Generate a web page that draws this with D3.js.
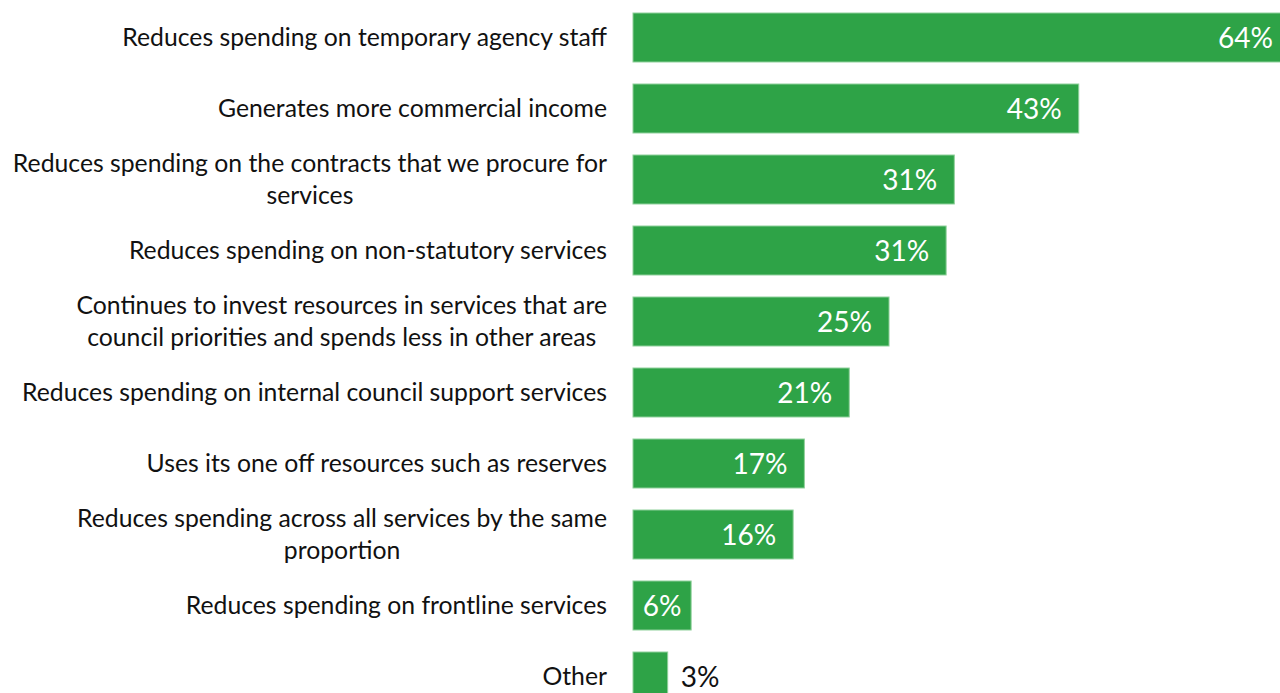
<!DOCTYPE html>
<html>
<head>
<meta charset="utf-8">
<script src="https://cdn.jsdelivr.net/npm/d3@7"></script>
<style>
  html, body { margin: 0; padding: 0; background: #fff; overflow: hidden; }
  svg { display: block; }
</style>
</head>
<body>
<div id="chart"></div>
<script>
// categories, top to bottom (line breaks as in the original)
const categories = [
  "Reduces spending on temporary agency staff",
  "Generates more commercial income",
  "Reduces spending on the contracts that we procure for\nservices",
  "Reduces spending on non-statutory services",
  "Continues to invest resources in services that are\ncouncil priorities and spends less in other areas",
  "Reduces spending on internal council support services",
  "Uses its one off resources such as reserves",
  "Reduces spending across all services by the same\nproportion",
  "Reduces spending on frontline services",
  "Other"
];
// share of respondents, %
const values = [64.4, 43.7, 31.5, 30.7, 25.1, 21.2, 16.8, 15.7, 5.7, 3.4];
const valueLabels = ["64%", "43%", "31%", "31%", "25%", "21%", "17%", "16%", "6%", "3%"];

(function() {
  const W = 1280, H = 693;
  const plotLeft = 633;
  const labelRight = 607;
  const green = "#2ea347";
  const font = "Lato, 'Open Sans', sans-serif";

  const svg = d3.select("#chart").append("svg")
    .attr("width", W)
    .attr("height", H);

  const rows = categories.map((c, i) => ({ cat: c, value: values[i], label: valueLabels[i] }));

  const x = d3.scaleLinear()
    .domain([0, 100])
    .range([plotLeft, plotLeft + 1020]);

  const y = d3.scaleBand()
    .domain(categories)
    .range([2, 712])
    .paddingInner(0.31)
    .paddingOuter(0.155);

  // fit the label font so the longest single line is about as wide as the original
  const probe = svg.append("text").attr("font-family", font).attr("font-size", 26)
    .text("Reduces spending on temporary agency staff");
  const catSize = 26 * 485 / probe.node().getComputedTextLength();
  probe.attr("font-size", 26).text("64%");
  const valSize = 26 * 55 / probe.node().getComputedTextLength();
  probe.remove();

  // bars
  svg.selectAll("rect.bar")
    .data(rows)
    .join("rect")
    .attr("class", "bar")
    .attr("x", x(0))
    .attr("y", d => y(d.cat))
    .attr("width", d => x(d.value) - x(0))
    .attr("height", y.bandwidth())
    .attr("fill", green)
    .attr("stroke", "#8fd09a")
    .attr("stroke-width", 1);

  // category labels, each block right aligned, lines centred in the block
  const lineH = 32;
  const labels = svg.selectAll("g.cat")
    .data(rows)
    .join("g")
    .attr("class", "cat");

  labels.each(function(d) {
    const g = d3.select(this);
    const lines = d.cat.split("\n");
    const cy = y(d.cat) + y.bandwidth() / 2;
    const t = g.append("text")
      .attr("font-family", font)
      .attr("font-size", catSize)
      .attr("fill", "#111");
    lines.forEach((ln, i) => {
      t.append("tspan")
        .attr("y", cy + (i - (lines.length - 1) / 2) * lineH)
        .attr("dy", "0.36em")
        .text(ln);
    });
    // width of the block, then centre every line in it
    const widths = [];
    t.selectAll("tspan").each(function() { widths.push(this.getComputedTextLength()); });
    const blockW = d3.max(widths);
    t.selectAll("tspan")
      .attr("x", labelRight - blockW / 2)
      .attr("text-anchor", "middle");
  });

  // value labels
  svg.selectAll("text.val")
    .data(rows)
    .join("text")
    .attr("class", "val")
    .attr("font-family", font)
    .attr("font-size", valSize)
    .attr("y", d => y(d.cat) + y.bandwidth() / 2)
    .attr("dy", "0.36em")
    .each(function(d) {
      const w = x(d.value) - x(0);
      const t = d3.select(this).text(d.label);
      if (w < 45) {
        t.attr("x", x(d.value) + 13).attr("text-anchor", "start").attr("fill", "#111");
      } else if (w < 75) {
        t.attr("x", x(0) + w / 2).attr("text-anchor", "middle").attr("fill", "#fff");
      } else {
        t.attr("x", x(d.value) - 17).attr("text-anchor", "end").attr("fill", "#fff");
      }
    });
})();
</script>
</body>
</html>
